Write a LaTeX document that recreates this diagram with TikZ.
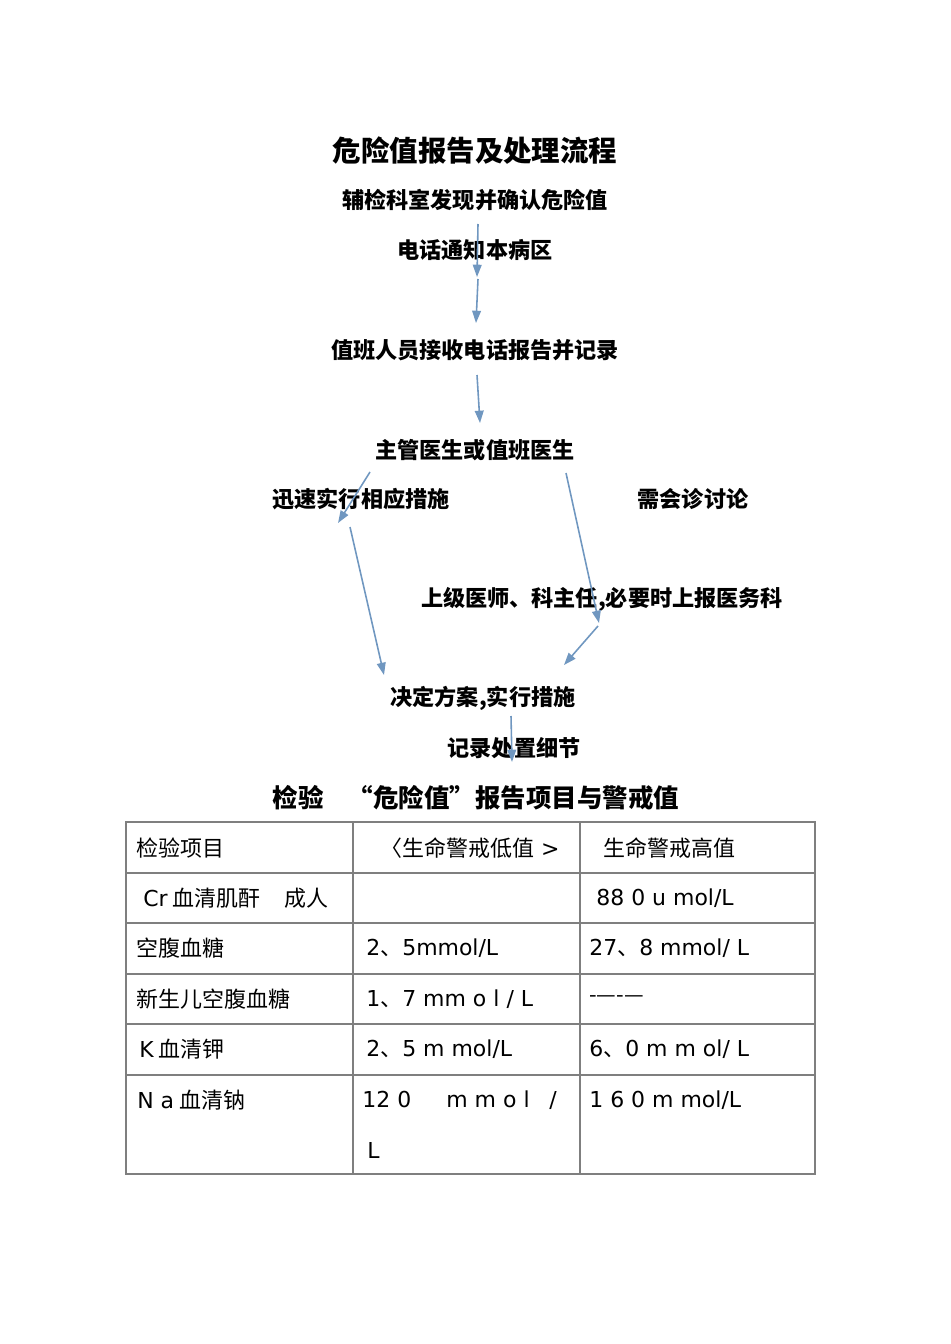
\documentclass[tikz,border=0pt]{standalone}
\usepackage{fontspec}
\setmainfont{Noto Sans CJK SC}
\newfontfamily\latinfont{DejaVu Sans}
\newcommand{\lat}[1]{{\latinfont #1}}
\usepackage{tikz}
\usetikzlibrary{arrows.meta}
\definecolor{arrowblue}{HTML}{7097C0}
\definecolor{rulegray}{HTML}{7F7F7F}

\begin{document}
\begin{tikzpicture}[x=0.02cm,y=-0.02cm,
    titletext/.style={font=\fontsize{16.2pt}{18pt}\selectfont\bfseries},
    flowtext/.style={font=\fontsize{12.6pt}{14pt}\selectfont\bfseries},
    tabletitle/.style={font=\fontsize{14.5pt}{16pt}\selectfont\bfseries},
    celltext/.style={anchor=west,inner sep=0pt,font=\fontsize{12.5pt}{14pt}\selectfont},
    flowarrow/.style={draw=arrowblue,line width=0.9pt,-{Triangle[length=7pt,width=5pt]}}]
        \useasboundingbox (0,0) rectangle (950,1344);

        % Draw the flow chart texts
        \node[titletext] (title) at (475,151) {危险值报告及处理流程};
        \node[flowtext] (find) at (475,200) {辅检科室发现并确认危险值};
        \node[flowtext] (phone) at (475,250) {电话通知本病区};
        \node[flowtext] (receive) at (475,350) {值班人员接收电话报告并记录};
        \node[flowtext] (doctor) at (475,450) {主管医生或值班医生};
        \node[flowtext] (quick) at (361,499) {迅速实行相应措施};
        \node[flowtext] (consult) at (693,499) {需会诊讨论};
        \node[flowtext] (senior) at (602,599) {上级医师、科主任,必要时上报医务科};
        \node[flowtext] (decide) at (483,698) {决定方案,实行措施};
        \node[flowtext] (record) at (514,748) {记录处置细节};

        % Arrow end points
        \coordinate (a1) at (478,224);
        \coordinate (a2) at (477,277);
        \coordinate (a3) at (478,279);
        \coordinate (a4) at (476,323);
        \coordinate (a5) at (477,375);
        \coordinate (a6) at (480,423);
        \coordinate (a7) at (370,472);
        \coordinate (a8) at (338,523);
        \coordinate (a9) at (350,527);
        \coordinate (a10) at (384,675);
        \coordinate (a11) at (566,473);
        \coordinate (a12) at (599,623);
        \coordinate (a13) at (598,626);
        \coordinate (a14) at (564,665);
        \coordinate (a15) at (511,716);
        \coordinate (a16) at (512,762);

        % Draw the arrows
        \draw[flowarrow] (a1) -- (a2);
        \draw[flowarrow] (a3) -- (a4);
        \draw[flowarrow] (a5) -- (a6);
        \draw[flowarrow] (a7) -- (a8);
        \draw[flowarrow] (a9) -- (a10);
        \draw[flowarrow] (a11) -- (a12);
        \draw[flowarrow] (a13) -- (a14);
        \draw[flowarrow] (a15) -- (a16);

        % Table title
        \node[tabletitle] (tabtitle) at (476,798) {检验\hspace{0.95em}“危险值”报告项目与警戒值};

        % Draw the table grid
        \draw[rulegray,line width=0.6pt] (126,822) rectangle (815,1174);
        \foreach \y in {873,923,974,1024,1075}
            \draw[rulegray,line width=0.6pt] (126,\y) -- (815,\y);
        \foreach \x in {353,580}
            \draw[rulegray,line width=0.6pt] (\x,822) -- (\x,1174);

        % Table cells
        \node[celltext] (h1) at (136,848) {检验项目};
        \node[celltext] (h2) at (380,848) {〈生命警戒低值\lat{ >}};
        \node[celltext] (h3) at (603,848) {生命警戒高值};
        \node[celltext] (cr1) at (143,898) {\lat{Cr} 血清肌酐\hspace{1.1em}成人};
        \node[celltext] (cr3) at (596,898) {\lat{88 0 u mol/L}};
        \node[celltext] (glu1) at (136,948) {空腹血糖};
        \node[celltext] (glu2) at (366,948) {\lat{2}、\lat{5mmol/L}};
        \node[celltext] (glu3) at (589,948) {\lat{27}、\lat{8 mmol/ L}};
        \node[celltext] (neo1) at (136,999) {新生儿空腹血糖};
        \node[celltext] (neo2) at (366,999) {\lat{1}、\lat{7 mm o l / L}};
        \node[celltext] (neo3) at (589,999) {-—-—};
        \node[celltext] (k1) at (139,1049) {\lat{K} 血清钾};
        \node[celltext] (k2) at (366,1049) {\lat{2}、\lat{5 m mol/L}};
        \node[celltext] (k3) at (589,1049) {\lat{6}、\lat{0 m m ol/ L}};
        \node[celltext] (na1) at (137,1100) {\lat{N a} 血清钠};
        \node[celltext] (na2) at (362,1100) {\lat{12 0}\hspace{1.6em}\lat{m m o l}\hspace{0.9em}\lat{/}};
        \node[celltext] (na2b) at (367,1150) {\lat{L}};
        \node[celltext] (na3) at (589,1100) {\lat{1 6 0 m mol/L}};
    \end{tikzpicture}
\end{document}
